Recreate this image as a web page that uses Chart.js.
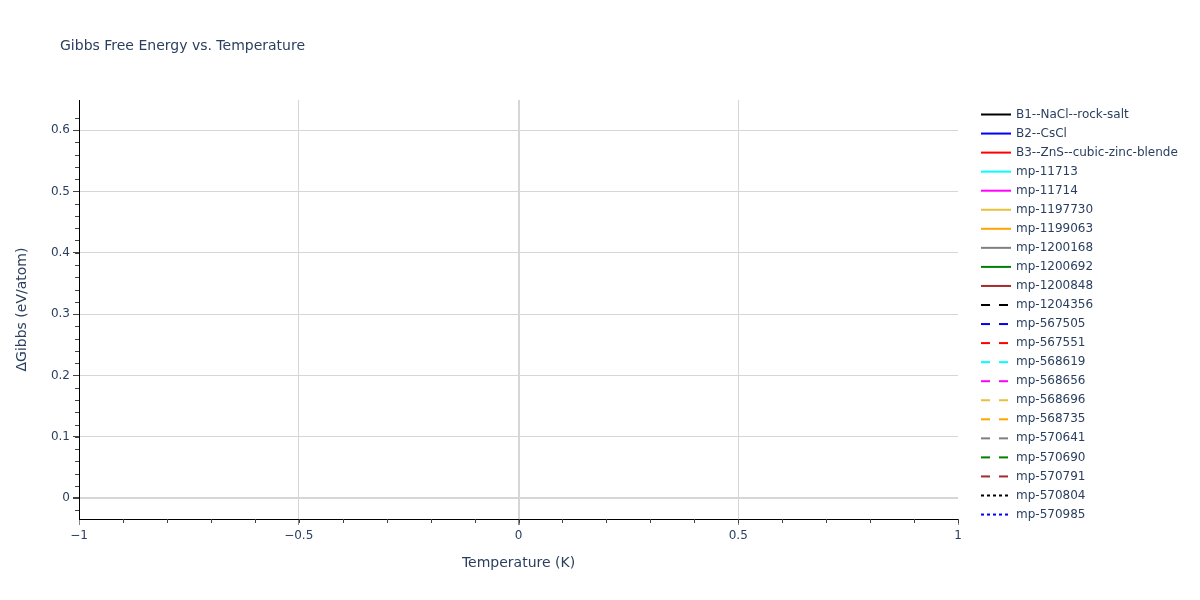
<!DOCTYPE html>
<html>
<head>
<meta charset="utf-8">
<script src="https://cdn.jsdelivr.net/npm/chart.js@4.4.1/dist/chart.umd.min.js"></script>
<style>
  html, body { margin: 0; padding: 0; background: #fff; }
  #wrap { width: 1200px; height: 600px; position: relative; }
</style>
</head>
<body>
<div id="wrap"><canvas id="gibbsChart" width="1200" height="600"></canvas></div>
<script>
// Series shown in the legend (no data points are plotted in the reference)
const seriesNames = [
  "B1--NaCl--rock-salt", "B2--CsCl", "B3--ZnS--cubic-zinc-blende",
  "mp-11713", "mp-11714", "mp-1197730", "mp-1199063", "mp-1200168",
  "mp-1200692", "mp-1200848", "mp-1204356", "mp-567505", "mp-567551",
  "mp-568619", "mp-568656", "mp-568696", "mp-568735", "mp-570641",
  "mp-570690", "mp-570791", "mp-570804", "mp-570985"
];
const seriesColors = [
  "#000000", "#0000ff", "#ff0000", "#00ffff", "#ff00ff", "#e8c13a", "#ffa500",
  "#808080", "#008000", "#a52a2a",
  "#000000", "#0000ff", "#ff0000", "#00ffff", "#ff00ff", "#e8c13a", "#ffa500",
  "#808080", "#008000", "#a52a2a",
  "#000000", "#0000ff"
];
const seriesDash = [
  "solid", "solid", "solid", "solid", "solid", "solid", "solid", "solid", "solid", "solid",
  "dash", "dash", "dash", "dash", "dash", "dash", "dash", "dash", "dash", "dash",
  "dot", "dot"
];
const temperature = [];
const gibbsValues = seriesNames.map(() => []);

const xTicks = [-1, -0.5, 0, 0.5, 1];
const yTicks = [0, 0.1, 0.2, 0.3, 0.4, 0.5, 0.6];

const textColor = "#2a3f5f";
const fontFamily = "'DejaVu Sans', Verdana, sans-serif";
const dashMap = { solid: [], dash: [9, 9], dot: [3, 3] };

const datasets = seriesNames.map((name, i) => ({
  label: name,
  data: temperature.map((t, j) => ({ x: t, y: gibbsValues[i][j] })),
  borderColor: seriesColors[i],
  backgroundColor: seriesColors[i],
  borderWidth: 2,
  borderDash: dashMap[seriesDash[i]],
  pointRadius: 0,
  fill: false,
}));

// Title, axis titles, minor ticks and legend drawn on the canvas
const extras = {
  id: "extras",
  afterDraw(chart) {
    const ctx = chart.ctx;
    const area = chart.chartArea;
    const xs = chart.scales.x;
    const ys = chart.scales.y;
    ctx.save();

    // minor ticks
    ctx.strokeStyle = "#444";
    ctx.lineWidth = 1;
    for (let v = -0.02; v <= 0.64; v += 0.02) {
      const y = Math.round(ys.getPixelForValue(v)) + 0.5;
      if (y < area.top || y > area.bottom) continue;
      ctx.beginPath();
      ctx.moveTo(area.left - 4, y);
      ctx.lineTo(area.left, y);
      ctx.stroke();
    }
    for (let v = -0.9; v < 1; v += 0.1) {
      const x = Math.round(xs.getPixelForValue(v)) + 0.5;
      ctx.beginPath();
      ctx.moveTo(x, area.bottom);
      ctx.lineTo(x, area.bottom + 4);
      ctx.stroke();
    }

    // title
    ctx.fillStyle = textColor;
    ctx.font = "14px " + fontFamily;
    ctx.textAlign = "left";
    ctx.textBaseline = "alphabetic";
    ctx.fillText("Gibbs Free Energy vs. Temperature", 60, 50);

    // axis titles
    ctx.font = "14px " + fontFamily;
    ctx.textAlign = "center";
    ctx.textBaseline = "middle";
    ctx.fillText("Temperature (K)", (area.left + area.right) / 2, 563);
    ctx.save();
    ctx.translate(22, (area.top + area.bottom) / 2);
    ctx.rotate(-Math.PI / 2);
    ctx.fillText("\u0394Gibbs (eV/atom)", 0, 0);
    ctx.restore();

    // legend
    ctx.font = "12px " + fontFamily;
    ctx.textAlign = "left";
    chart.data.datasets.forEach((ds, i) => {
      const y = 114.5 + i * 19.05;
      ctx.strokeStyle = ds.borderColor;
      ctx.lineWidth = 2;
      ctx.setLineDash(ds.borderDash);
      ctx.beginPath();
      ctx.moveTo(981, y);
      ctx.lineTo(1011, y);
      ctx.stroke();
      ctx.setLineDash([]);
      ctx.fillStyle = textColor;
      ctx.fillText(ds.label, 1016, y);
    });
    ctx.restore();
  },
};

new Chart(document.getElementById("gibbsChart"), {
  type: "line",
  data: { datasets: datasets },
  options: {
    responsive: false,
    animation: false,
    layout: { padding: { top: 100, right: 242, left: 0, bottom: 0 } },
    plugins: { legend: { display: false }, title: { display: false }, tooltip: { enabled: false } },
    scales: {
      x: {
        type: "linear",
        min: -1,
        max: 1,
        afterBuildTicks: (s) => { s.ticks = xTicks.map((v) => ({ value: v })); },
        afterFit: (s) => { s.height = 81; },
        border: { color: "#000", width: 1 },
        grid: {
          color: (c) => (c.tick && (c.tick.value === 1 || c.tick.value === -1) ? "rgba(0,0,0,0)" : "#d6d6d6"),
          lineWidth: (c) => (c.tick && c.tick.value === 0 ? 2 : 1),
          tickColor: "#888",
          tickLength: 6,
        },
        ticks: {
          color: textColor,
          font: { family: fontFamily, size: 12 },
          padding: 4,
          maxRotation: 0,
          callback: (v) => (v < 0 ? "\u2212" + Math.abs(v) : String(v)),
        },
      },
      y: {
        type: "linear",
        min: -0.034,
        max: 0.649,
        afterBuildTicks: (s) => { s.ticks = yTicks.map((v) => ({ value: v })); },
        afterFit: (s) => { s.width = 79; },
        border: { color: "#000", width: 1 },
        grid: {
          color: "#d6d6d6",
          lineWidth: (c) => (c.tick && c.tick.value === 0 ? 2 : 1),
          tickColor: "#444",
          tickLength: 6,
        },
        ticks: {
          color: textColor,
          font: { family: fontFamily, size: 12 },
          padding: 3,
          callback: (v) => String(v),
        },
      },
    },
  },
  plugins: [extras],
});
</script>
</body>
</html>
